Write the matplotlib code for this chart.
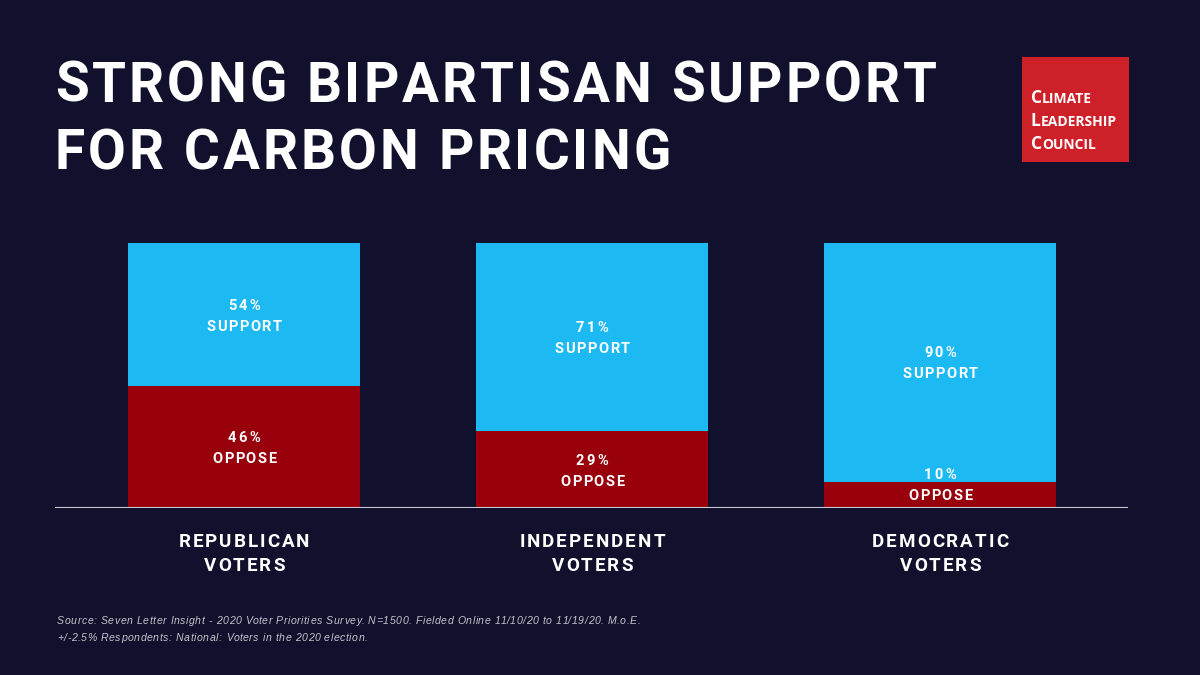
import matplotlib
matplotlib.use('Agg')
import numpy as np
from matplotlib import pyplot as plt
from matplotlib.patches import Rectangle

groups = ['REPUBLICAN\nVOTERS', 'INDEPENDENT\nVOTERS', 'DEMOCRATIC\nVOTERS']
support = [54, 71, 90]
oppose = [46, 29, 10]

title_lines = ['STRONG BIPARTISAN SUPPORT', 'FOR CARBON PRICING']
logo_lines = ['CLIMATE', 'LEADERSHIP', 'COUNCIL']
source_lines = [
    'Source: Seven Letter Insight - 2020 Voter Priorities Survey. N=1500. '
    'Fielded Online 11/10/20 to 11/19/20. M.o.E.',
    '+/-2.5% Respondents: National: Voters in the 2020 election.',
]

BG = '#11112d'
BLUE = '#1db9f2'
RED = '#98000b'
W, H = 1200, 675

fig = plt.figure(figsize=(12, 6.75), dpi=100, facecolor=BG)
renderer = fig.canvas.get_renderer()


def text_width(s, **kw):
    t = fig.text(0, 0, s, transform=None, **kw)
    w = t.get_window_extent(renderer).width
    t.remove()
    return w


def spaced(s, x, y, track, ha='left', **kw):
    # draw s letter by letter (display px, origin bottom-left) with extra tracking
    ref = text_width('X', **kw)
    adv = [text_width(s[:i] + 'X', **kw) - ref for i in range(len(s))]
    total = text_width(s, **kw) + track * (len(s) - 1)
    x0 = x - total / 2 if ha == 'center' else x
    for i, ch in enumerate(s):
        if ch == ' ':
            continue
        fig.text(x0 + adv[i] + track * i, y, ch, transform=None,
                 va='baseline', ha='left', **kw)
    return total


# bars
ax = fig.add_axes([55 / W, 1 - 508 / H, (1128 - 55) / W, (508 - 243) / H])
ax.set_facecolor(BG)
x = np.arange(len(groups))
ax.bar(x, oppose, width=0.667, color=RED, zorder=2)
ax.bar(x, support, bottom=oppose, width=0.667, color=BLUE, zorder=2)
ax.set_xlim(-0.543, 2.54)
ax.set_ylim(0, 100)
ax.axhline(0, color='#c9c9d2', lw=1.5, zorder=3)
ax.axis('off')

lab_kw = dict(color='white', fontsize=10.5, fontweight='bold', family=['Roboto', 'DejaVu Sans'])
base_px = ax.transData.transform((0, 0))[1]
for i in range(len(groups)):
    segs = [(oppose[i] / 2, oppose[i], 'OPPOSE'),
            (oppose[i] + support[i] / 2, support[i], 'SUPPORT')]
    for cy, val, word in segs:
        cx, cpx = ax.transData.transform((x[i], cy))
        word_c = max(cpx - 11, base_px + 13)
        spaced(f'{val}%', cx, word_c + 21 - 5, 2.4, ha='center', **lab_kw)
        spaced(word, cx, word_c - 5, 1.5, ha='center', **lab_kw)

# category labels
cat_kw = dict(color='white', fontsize=13.5, fontweight='bold', family=['Roboto', 'DejaVu Sans'])
for i, g in enumerate(groups):
    cx = ax.transData.transform((x[i], 0))[0]
    for j, line in enumerate(g.split('\n')):
        spaced(line, cx, H - 547 - 24 * j, 2.0, ha='center', **cat_kw)

# title
title_kw = dict(color='white', fontsize=39.5, fontweight='bold', family=['Roboto', 'DejaVu Sans'])
spaced(title_lines[0], 55, H - 102, 3.0, **title_kw)
spaced(title_lines[1], 55, H - 169, 3.0, **title_kw)

# logo
fig.patches.append(Rectangle((1022, H - 162), 107, 105, transform=None,
                             facecolor='#cd2028', edgecolor='none'))
big_kw = dict(color='white', fontsize=12.5, fontweight='bold', family=['Open Sans', 'DejaVu Sans'])
small_kw = dict(color='white', fontsize=10, fontweight='bold', family=['Open Sans', 'DejaVu Sans'])
for j, word in enumerate(logo_lines):
    yb = H - 103 - 23 * j
    wb = text_width(word[0] + 'X', **big_kw) - text_width('X', **big_kw)
    fig.text(1031, yb, word[0], transform=None, va='baseline', **big_kw)
    fig.text(1031 + wb, yb, word[1:], transform=None, va='baseline', **small_kw)

# source note
src_kw = dict(color='#c3c3cc', fontsize=7.6, style='italic', family=['Liberation Sans', 'DejaVu Sans'])
spaced(source_lines[0], 57, H - 624, 0.55, **src_kw)
spaced(source_lines[1], 57, H - 641, 0.55, **src_kw)

fig.savefig('out.png', dpi=100, facecolor=BG)
